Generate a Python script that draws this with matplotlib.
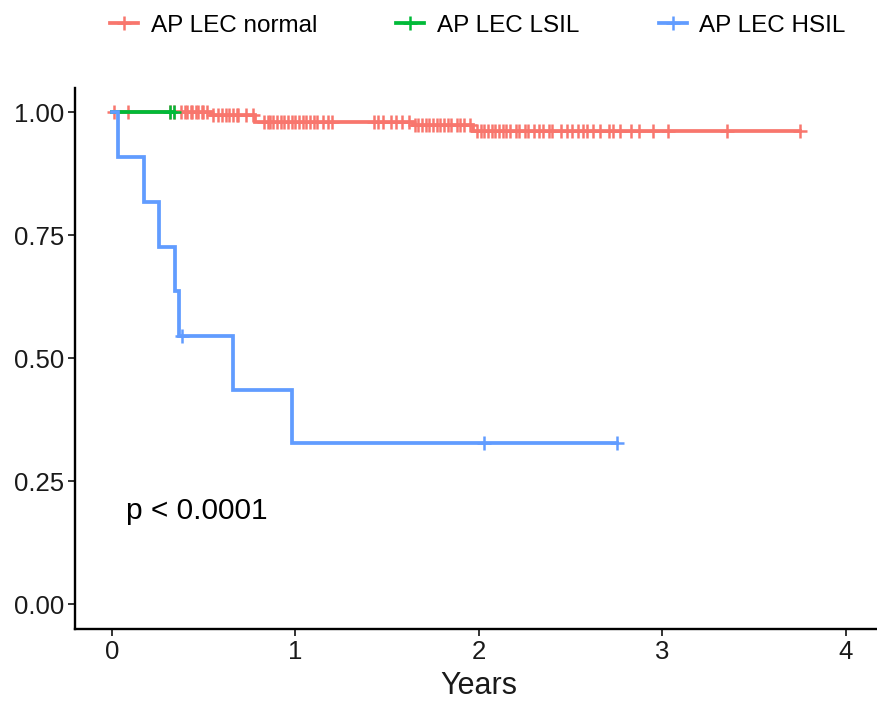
import numpy as np
import matplotlib.pyplot as plt
from matplotlib.lines import Line2D

plt.rcParams['font.family'] = ['Liberation Sans', 'DejaVu Sans']

# Kaplan-Meier step curves (time in years, survival probability)
normal_t = [0, 0.54, 0.78, 1.64, 1.97, 3.75]
normal_s = [1.0, 0.994, 0.981, 0.975, 0.962, 0.962]
normal_cens = [0.01, 0.09, 0.32, 0.34, 0.38, 0.40, 0.41, 0.43, 0.44, 0.46, 0.47,
               0.49, 0.50, 0.52, 0.55, 0.58, 0.60, 0.62, 0.64, 0.66, 0.68, 0.69,
               0.73, 0.77, 0.83, 0.85, 0.86, 0.88, 0.90, 0.92, 0.94, 0.96, 0.98,
               1.00, 1.02, 1.04, 1.06, 1.08, 1.10, 1.12, 1.15, 1.18, 1.20, 1.43,
               1.45, 1.48, 1.52, 1.55, 1.58, 1.62, 1.65, 1.67, 1.69, 1.71, 1.73,
               1.75, 1.77, 1.79, 1.81, 1.83, 1.85, 1.88, 1.90, 1.92, 1.95, 1.99,
               2.01, 2.03, 2.05, 2.07, 2.09, 2.11, 2.13, 2.15, 2.17, 2.20, 2.22,
               2.25, 2.27, 2.30, 2.33, 2.35, 2.38, 2.40, 2.45, 2.48, 2.51, 2.54,
               2.57, 2.59, 2.62, 2.66, 2.71, 2.73, 2.77, 2.83, 2.87, 2.95, 3.03,
               3.35, 3.75]

lsil_t = [0, 0.34]
lsil_s = [1.0, 1.0]
lsil_cens = [0.32, 0.34]

hsil_t = [0, 0.037, 0.175, 0.255, 0.345, 0.365, 0.66, 0.98, 2.75]
hsil_s = [1.0, 0.909, 0.818, 0.727, 0.636, 0.545, 0.436, 0.327, 0.327]
hsil_cens = [0.385, 2.03, 2.75]

groups = ['AP LEC normal', 'AP LEC LSIL', 'AP LEC HSIL']
colors = ['#F8766D', '#00BA38', '#619CFF']


def surv_at(t, times, surv):
    idx = np.searchsorted(times, t, side='right') - 1
    return np.asarray(surv)[idx]


fig = plt.figure(figsize=(8.77, 7.02), dpi=100)
ax = fig.add_axes([0.0855, 0.104, 0.921, 0.771])

curves = [(normal_t, normal_s, normal_cens),
          (lsil_t, lsil_s, lsil_cens),
          (hsil_t, hsil_s, hsil_cens)]
for (t, s, c), col in zip(curves, colors):
    ax.step(t, s, where='post', color=col, lw=2.7, solid_joinstyle='miter')
    ax.plot(c, surv_at(c, t, s), ls='none', marker='+', ms=10.5,
            mew=1.8, color=col)

ax.text(0.08, 0.19, 'p < 0.0001', fontsize=21.5, color='black',
        ha='left', va='center')

ax.set_xlim(-0.2, 4.2)
ax.set_ylim(-0.05, 1.05)
ax.set_xticks([0, 1, 2, 3, 4])
ax.set_yticks([0, 0.25, 0.5, 0.75, 1.0])
ax.set_yticklabels(['0.00', '0.25', '0.50', '0.75', '1.00'])
ax.tick_params(labelsize=18.5, colors='#333333', length=5, width=1.4,
               labelcolor='#1a1a1a', pad=3)
ax.set_xlabel('Years', fontsize=22, color='#1a1a1a', labelpad=5)

for side in ['top', 'right']:
    ax.spines[side].set_visible(False)
for side in ['left', 'bottom']:
    ax.spines[side].set_linewidth(1.7)
    ax.spines[side].set_color('black')

handles = [Line2D([], [], color=col, lw=2.7, marker='+', ms=10.5, mew=1.8)
           for col in colors]
fig.legend(handles, groups, loc='center', bbox_to_anchor=(0.545, 0.963),
           ncol=3, frameon=False, fontsize=17.5, handlelength=1.15,
           handletextpad=0.53, columnspacing=3.25)

fig.savefig('out.png', dpi=100)
